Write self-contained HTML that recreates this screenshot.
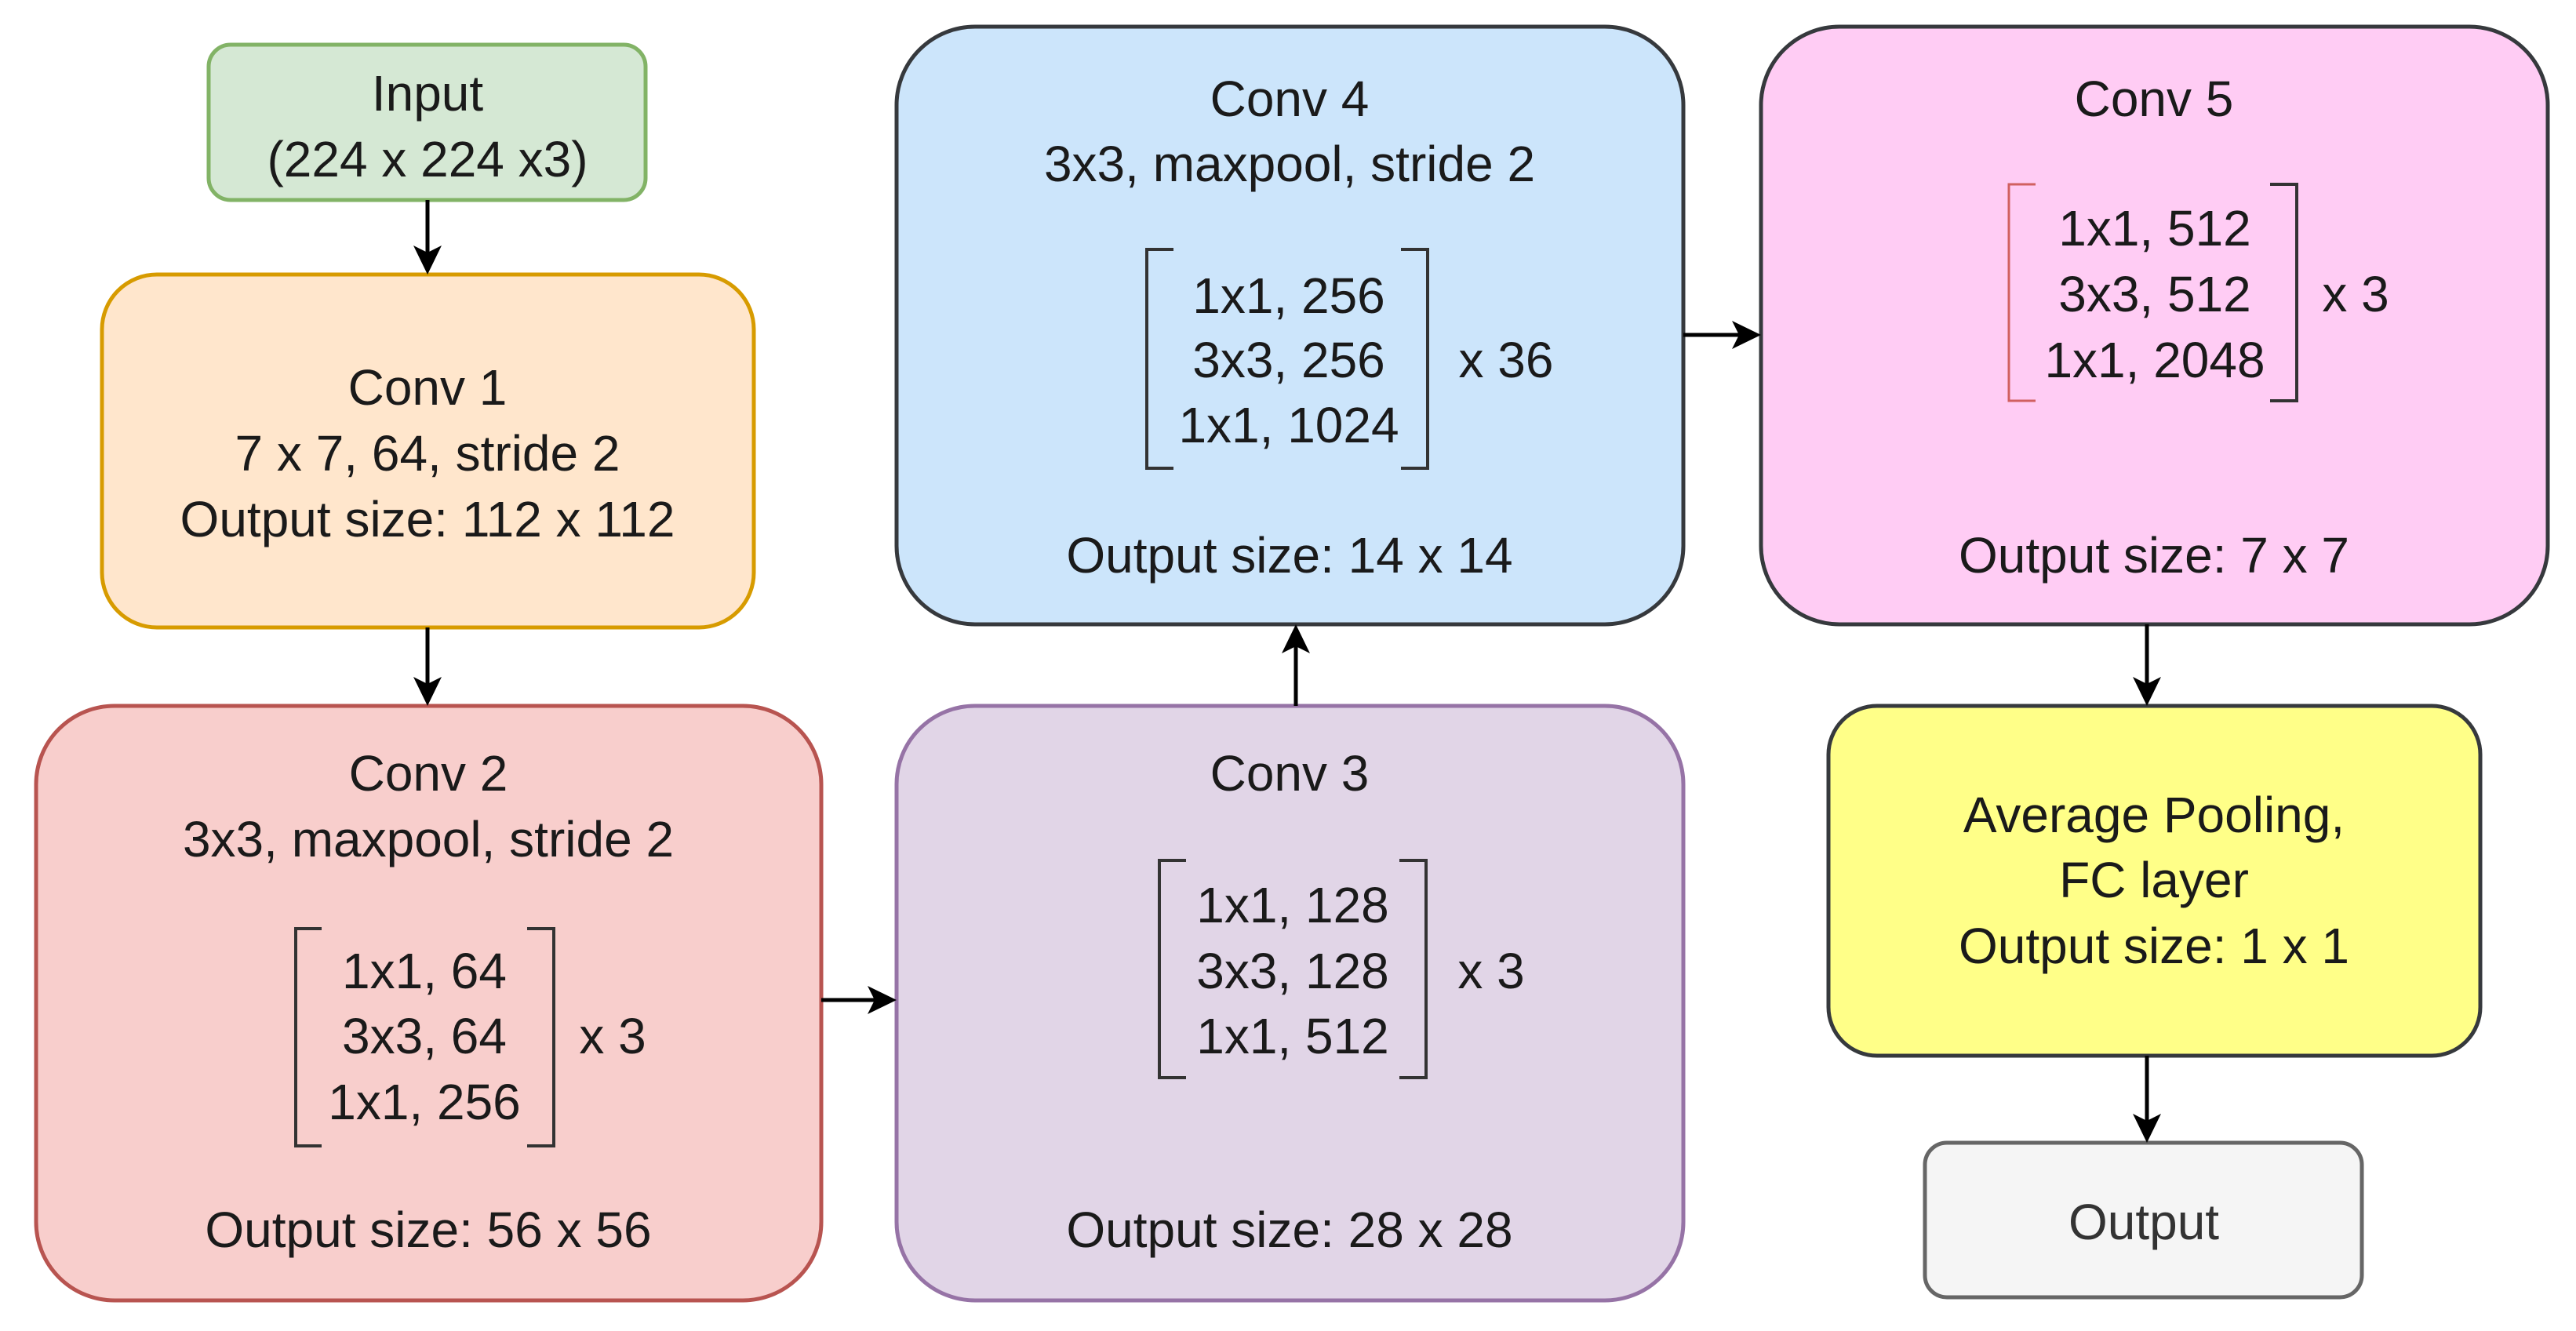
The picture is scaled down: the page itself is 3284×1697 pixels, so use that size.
<!DOCTYPE html>
<html><head><meta charset="utf-8"><style>
html,body{margin:0;padding:0;background:#fff;}
svg{display:block;}
text{font-family:"Liberation Sans",Arial,sans-serif;font-size:64px;fill:#1a1a1a;text-anchor:middle;dominant-baseline:central;}
</style></head><body>
<svg width="3284" height="1697" viewBox="0 0 3284 1697" xmlns="http://www.w3.org/2000/svg">
<defs>
<marker id="a" markerWidth="10" markerHeight="10" refX="9" refY="5" orient="auto" markerUnits="userSpaceOnUse" viewBox="0 0 10 10">
</marker>
</defs>
<g stroke-width="5">
<rect x="266" y="57" width="557" height="198" rx="28" fill="#d5e8d4" stroke="#82b366"/>
<rect x="130" y="350" width="831" height="450" rx="70" fill="#ffe6cc" stroke="#d79b00"/>
<rect x="46" y="900" width="1001" height="758" rx="100" fill="#f8cecc" stroke="#b85450"/>
<rect x="1143" y="900" width="1003" height="758" rx="100" fill="#e1d5e7" stroke="#9673a6"/>
<rect x="1143" y="34" width="1003" height="762" rx="100" fill="#cce5fb" stroke="#36393d"/>
<rect x="2245" y="34" width="1003" height="762" rx="100" fill="#ffccf4" stroke="#36393d"/>
<rect x="2331" y="900" width="831" height="446" rx="62" fill="#ffff88" stroke="#36393d"/>
<rect x="2454" y="1457" width="557" height="197" rx="28" fill="#f5f5f5" stroke="#666666"/>
</g>
<!-- connectors -->
<g stroke="#000" stroke-width="5" fill="none">
<line x1="545" y1="255" x2="545" y2="325"/>
<line x1="545" y1="800" x2="545" y2="875"/>
<line x1="1047" y1="1275" x2="1118" y2="1275"/>
<line x1="1652" y1="900" x2="1652" y2="821"/>
<line x1="2146" y1="427" x2="2220" y2="427"/>
<line x1="2737" y1="796" x2="2737" y2="875"/>
<line x1="2737" y1="1346" x2="2737" y2="1432"/>
</g>
<g fill="#000">
<polygon points="545,350 527,313 545,322 563,313"/>
<polygon points="545,900 527,863 545,872 563,863"/>
<polygon points="1143,1275 1106,1257 1115,1275 1106,1293"/>
<polygon points="1652,796 1634,833 1652,824 1670,833"/>
<polygon points="2245,427 2208,409 2217,427 2208,445"/>
<polygon points="2737,900 2719,863 2737,872 2755,863"/>
<polygon points="2737,1457 2719,1420 2737,1429 2755,1420"/>
</g>
<!-- brackets -->
<g fill="none" stroke="#333" stroke-width="4">
<polyline points="410,1184 377,1184 377,1461 410,1461"/>
<polyline points="672,1184 706,1184 706,1461 672,1461"/>
<polyline points="1512,1097 1478,1097 1478,1374 1512,1374"/>
<polyline points="1784,1097 1818,1097 1818,1374 1784,1374"/>
<polyline points="1496,318 1462,318 1462,597 1496,597"/>
<polyline points="1786,318 1820,318 1820,597 1786,597"/>
<polyline points="2894,235 2928,235 2928,511 2894,511"/>
</g>
<polyline points="2595,235 2561,235 2561,511 2595,511" fill="none" stroke="#d06060" stroke-width="3"/>
<!-- text -->
<text x="545" y="119">Input</text>
<text x="545" y="203">(224 x 224 x3)</text>
<text x="545" y="494">Conv 1</text>
<text x="545" y="578">7 x 7, 64, stride 2</text>
<text x="545" y="662">Output size: 112 x 112</text>
<text x="546" y="986">Conv 2</text>
<text x="546" y="1070">3x3, maxpool, stride 2</text>
<text x="541" y="1238">1x1, 64</text>
<text x="541" y="1321">3x3, 64</text>
<text x="541" y="1405">1x1, 256</text>
<text x="781" y="1321">x 3</text>
<text x="546" y="1568">Output size: 56 x 56</text>
<text x="1644" y="986">Conv 3</text>
<text x="1648" y="1154">1x1, 128</text>
<text x="1648" y="1238">3x3, 128</text>
<text x="1648" y="1321">1x1, 512</text>
<text x="1901" y="1238">x 3</text>
<text x="1644" y="1568">Output size: 28 x 28</text>
<text x="1644" y="126">Conv 4</text>
<text x="1644" y="209">3x3, maxpool, stride 2</text>
<text x="1643" y="377">1x1, 256</text>
<text x="1643" y="459">3x3, 256</text>
<text x="1643" y="542">1x1, 1024</text>
<text x="1920" y="459">x 36</text>
<text x="1644" y="708">Output size: 14 x 14</text>
<text x="2746" y="126">Conv 5</text>
<text x="2747" y="291">1x1, 512</text>
<text x="2747" y="375">3x3, 512</text>
<text x="2747" y="459">1x1, 2048</text>
<text x="3003" y="375">x 3</text>
<text x="2746" y="708">Output size: 7 x 7</text>
<text x="2746" y="1039">Average Pooling,</text>
<text x="2746" y="1122">FC layer</text>
<text x="2746" y="1206">Output size: 1 x 1</text>
<text x="2733" y="1558" style="fill:#333">Output</text>
</svg>
</body></html>
